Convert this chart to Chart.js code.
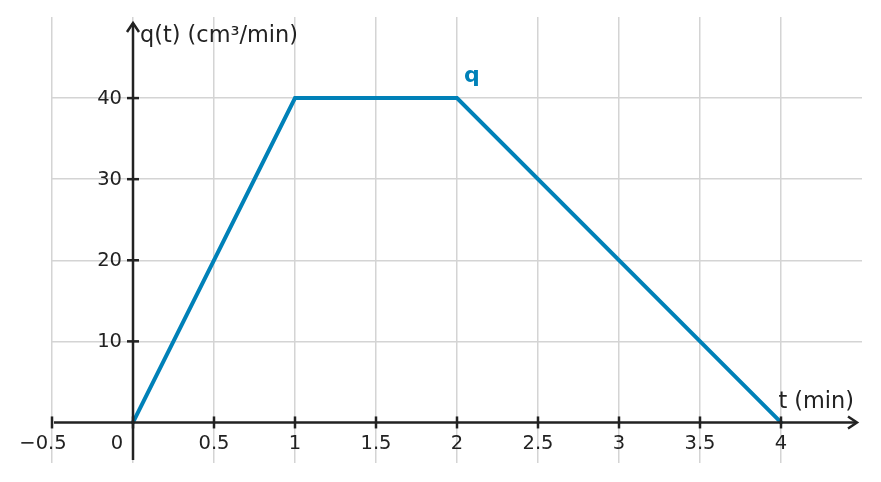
<!DOCTYPE html>
<html lang="en">
<head>
    <meta charset="UTF-8">
    <title>q(t)</title>
    <script src="https://cdn.jsdelivr.net/npm/chart.js"></script>
    <style>
        html, body { margin: 0; padding: 0; background: #fff; }
        #wrap { width: 881px; height: 482px; }
    </style>
</head>
<body>
    <div id="wrap"><canvas id="chart"></canvas></div>

    <script>
        // data
        const tValues = [0, 1, 2, 4];
        const qValues = [0, 40, 40, 0];
        const xTicks = [-0.5, 0, 0.5, 1, 1.5, 2, 2.5, 3, 3.5, 4];
        const yTicks = [10, 20, 30, 40];
        const xTitle = 't (min)';
        const yTitle = 'q(t) (cm³/min)';
        const seriesName = 'q';

        const axisColor = '#222';
        const lineColor = '#0081b8';
        const font = '"DejaVu Sans", sans-serif';

        function fmt(v) {
            return String(v).replace('-', '\u2212');
        }

        // draws the axes through the origin, with arrows, tick marks and labels
        const axesPlugin = {
            id: 'axes',
            afterDraw(chart) {
                const ctx = chart.ctx;
                const xs = chart.scales.x, ys = chart.scales.y;
                const x0 = xs.getPixelForValue(0), y0 = ys.getPixelForValue(0);
                const area = chart.chartArea;

                ctx.save();
                ctx.strokeStyle = axisColor;
                ctx.fillStyle = axisColor;
                ctx.lineWidth = 2.5;

                // x axis
                ctx.beginPath();
                ctx.moveTo(area.left + 2, y0);
                ctx.lineTo(area.right - 6, y0);
                ctx.stroke();
                ctx.beginPath();
                ctx.moveTo(area.right - 14, y0 - 6);
                ctx.lineTo(area.right - 5, y0);
                ctx.lineTo(area.right - 14, y0 + 6);
                ctx.stroke();

                // y axis
                ctx.beginPath();
                ctx.moveTo(x0, area.bottom - 3);
                ctx.lineTo(x0, area.top + 6);
                ctx.stroke();
                ctx.beginPath();
                ctx.moveTo(x0 - 6, area.top + 15);
                ctx.lineTo(x0, area.top + 6);
                ctx.lineTo(x0 + 6, area.top + 15);
                ctx.stroke();

                // ticks + labels
                ctx.font = '19.5px ' + font;
                ctx.textBaseline = 'middle';
                xTicks.forEach(v => {
                    const px = xs.getPixelForValue(v);
                    ctx.beginPath();
                    ctx.moveTo(px, y0 - 6);
                    ctx.lineTo(px, y0 + 6);
                    ctx.stroke();
                    ctx.textAlign = 'center';
                    let lx = px;
                    if (v === 0) lx = px - 16;
                    else if (v < 0) lx = px - 9;
                    ctx.fillText(fmt(v), lx, y0 + 21);
                });
                yTicks.forEach(v => {
                    const py = ys.getPixelForValue(v);
                    ctx.beginPath();
                    ctx.moveTo(x0 - 6, py);
                    ctx.lineTo(x0 + 6, py);
                    ctx.stroke();
                    ctx.textAlign = 'right';
                    ctx.fillText(fmt(v), x0 - 11, py + 1);
                });

                // axis titles
                ctx.font = '22.4px ' + font;
                ctx.textAlign = 'left';
                ctx.fillText(yTitle, x0 + 7, area.top + 19);
                ctx.textAlign = 'right';
                ctx.fillText(xTitle, area.right - 8, y0 - 20);

                // series label
                const last = chart.getDatasetMeta(0).data[2];
                ctx.fillStyle = lineColor;
                ctx.font = 'bold 22px ' + font;
                ctx.textAlign = 'left';
                ctx.fillText(seriesName, last.x + 7, last.y - 22);
                ctx.restore();
            }
        };

        new Chart(document.getElementById('chart'), {
            type: 'line',
            data: {
                datasets: [{
                    label: seriesName,
                    data: tValues.map((t, i) => ({ x: t, y: qValues[i] })),
                    borderColor: lineColor,
                    borderWidth: 4,
                    pointRadius: 0,
                    tension: 0,
                    borderCapStyle: 'round'
                }]
            },
            options: {
                responsive: true,
                maintainAspectRatio: false,
                animation: false,
                layout: { padding: { left: 52, right: 19, top: 17, bottom: 19 } },
                plugins: { legend: { display: false }, tooltip: { enabled: false } },
                scales: {
                    x: {
                        type: 'linear',
                        min: -0.5,
                        max: 4.5,
                        afterBuildTicks: s => { s.ticks = xTicks.map(v => ({ value: v })); },
                        ticks: { display: false },
                        border: { display: false },
                        grid: { color: '#d4d4d4', lineWidth: 1.5, drawTicks: false }
                    },
                    y: {
                        min: -5,
                        max: 50,
                        afterBuildTicks: s => { s.ticks = yTicks.map(v => ({ value: v })); },
                        ticks: { display: false },
                        border: { display: false },
                        grid: { color: '#d4d4d4', lineWidth: 1.5, drawTicks: false }
                    }
                }
            },
            plugins: [axesPlugin]
        });
    </script>
</body>
</html>
